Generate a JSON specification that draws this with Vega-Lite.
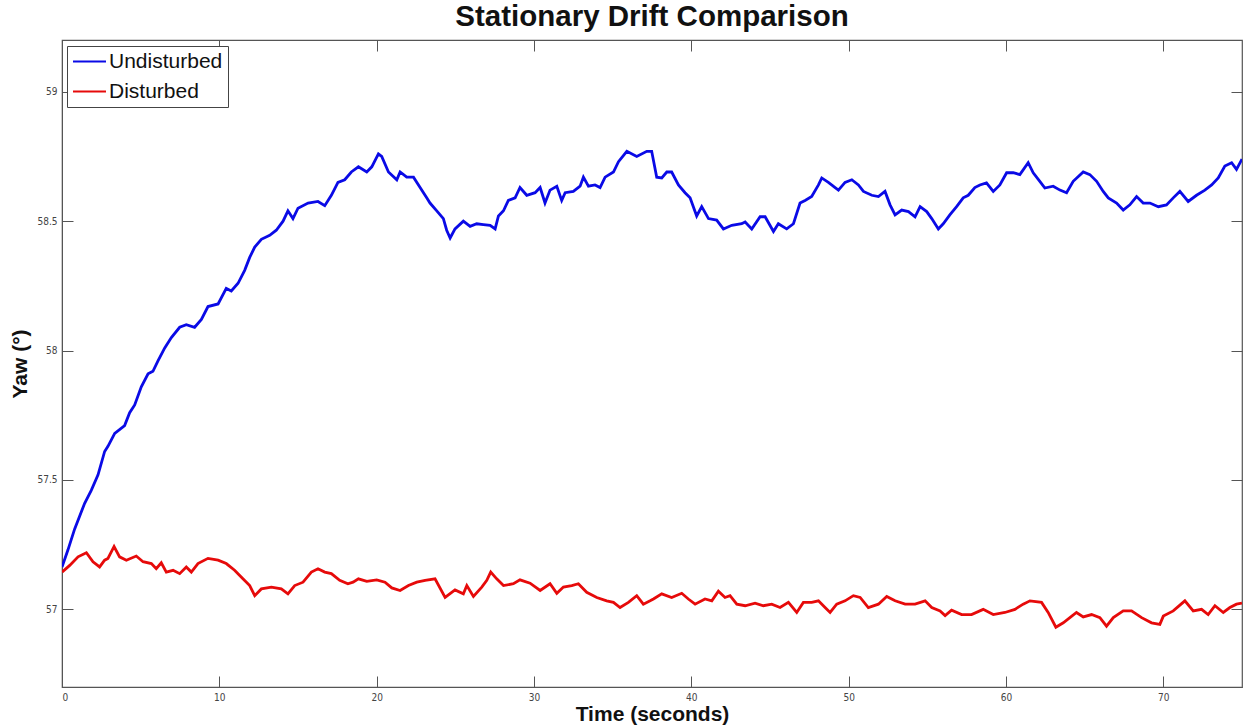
{
  "$schema": "https://vega.github.io/schema/vega-lite/v6.json",
  "width": 1180,
  "height": 647,
  "autosize": {"type": "none"},
  "padding": {"left": 62, "top": 40, "right": 1, "bottom": 40},
  "background": "white",
  "title": {"text": "Stationary Drift Comparison", "font": "Liberation Sans", "fontSize": 29.5, "fontWeight": "bold", "color": "#111", "anchor": "middle", "offset": 7},
  "data": {"values": [
{"series":"Undisturbed","t":0,"yaw":57.164},{"series":"Undisturbed","t":0.38,"yaw":57.23},{"series":"Undisturbed","t":0.8,"yaw":57.31},{"series":"Undisturbed","t":1.44,"yaw":57.41},{"series":"Undisturbed","t":1.86,"yaw":57.46},{"series":"Undisturbed","t":2.29,"yaw":57.52},{"series":"Undisturbed","t":2.71,"yaw":57.61},{"series":"Undisturbed","t":2.92,"yaw":57.63},{"series":"Undisturbed","t":3.35,"yaw":57.68},{"series":"Undisturbed","t":3.98,"yaw":57.71},{"series":"Undisturbed","t":4.3,"yaw":57.76},{"series":"Undisturbed","t":4.62,"yaw":57.79},{"series":"Undisturbed","t":5.04,"yaw":57.86},{"series":"Undisturbed","t":5.47,"yaw":57.91},{"series":"Undisturbed","t":5.78,"yaw":57.92},{"series":"Undisturbed","t":6.1,"yaw":57.96},{"series":"Undisturbed","t":6.53,"yaw":58.01},{"series":"Undisturbed","t":6.95,"yaw":58.05},{"series":"Undisturbed","t":7.48,"yaw":58.09},{"series":"Undisturbed","t":7.9,"yaw":58.1},{"series":"Undisturbed","t":8.43,"yaw":58.09},{"series":"Undisturbed","t":8.86,"yaw":58.12},{"series":"Undisturbed","t":9.28,"yaw":58.17},{"series":"Undisturbed","t":9.92,"yaw":58.18},{"series":"Undisturbed","t":10.44,"yaw":58.24},{"series":"Undisturbed","t":10.76,"yaw":58.23},{"series":"Undisturbed","t":11.19,"yaw":58.26},{"series":"Undisturbed","t":11.61,"yaw":58.31},{"series":"Undisturbed","t":11.93,"yaw":58.36},{"series":"Undisturbed","t":12.25,"yaw":58.4},{"series":"Undisturbed","t":12.67,"yaw":58.43},{"series":"Undisturbed","t":13.2,"yaw":58.445},{"series":"Undisturbed","t":13.62,"yaw":58.465},{"series":"Undisturbed","t":14.05,"yaw":58.5},{"series":"Undisturbed","t":14.36,"yaw":58.54},{"series":"Undisturbed","t":14.68,"yaw":58.51},{"series":"Undisturbed","t":15.0,"yaw":58.55},{"series":"Undisturbed","t":15.64,"yaw":58.57},{"series":"Undisturbed","t":16.27,"yaw":58.576},{"series":"Undisturbed","t":16.7,"yaw":58.56},{"series":"Undisturbed","t":17.12,"yaw":58.6},{"series":"Undisturbed","t":17.54,"yaw":58.65},{"series":"Undisturbed","t":17.97,"yaw":58.66},{"series":"Undisturbed","t":18.39,"yaw":58.69},{"series":"Undisturbed","t":18.84,"yaw":58.71},{"series":"Undisturbed","t":19.37,"yaw":58.69},{"series":"Undisturbed","t":19.69,"yaw":58.71},{"series":"Undisturbed","t":20.11,"yaw":58.76},{"series":"Undisturbed","t":20.32,"yaw":58.75},{"series":"Undisturbed","t":20.75,"yaw":58.69},{"series":"Undisturbed","t":21.28,"yaw":58.66},{"series":"Undisturbed","t":21.49,"yaw":58.69},{"series":"Undisturbed","t":21.91,"yaw":58.67},{"series":"Undisturbed","t":22.34,"yaw":58.67},{"series":"Undisturbed","t":22.76,"yaw":58.63},{"series":"Undisturbed","t":23.18,"yaw":58.59},{"series":"Undisturbed","t":23.39,"yaw":58.57},{"series":"Undisturbed","t":23.82,"yaw":58.54},{"series":"Undisturbed","t":24.24,"yaw":58.51},{"series":"Undisturbed","t":24.45,"yaw":58.465},{"series":"Undisturbed","t":24.67,"yaw":58.435},{"series":"Undisturbed","t":24.98,"yaw":58.47},{"series":"Undisturbed","t":25.51,"yaw":58.5},{"series":"Undisturbed","t":25.94,"yaw":58.48},{"series":"Undisturbed","t":26.36,"yaw":58.49},{"series":"Undisturbed","t":26.78,"yaw":58.487},{"series":"Undisturbed","t":27.21,"yaw":58.484},{"series":"Undisturbed","t":27.53,"yaw":58.47},{"series":"Undisturbed","t":27.74,"yaw":58.52},{"series":"Undisturbed","t":28.06,"yaw":58.54},{"series":"Undisturbed","t":28.37,"yaw":58.58},{"series":"Undisturbed","t":28.8,"yaw":58.59},{"series":"Undisturbed","t":29.11,"yaw":58.63},{"series":"Undisturbed","t":29.54,"yaw":58.6},{"series":"Undisturbed","t":30.07,"yaw":58.61},{"series":"Undisturbed","t":30.39,"yaw":58.63},{"series":"Undisturbed","t":30.7,"yaw":58.57},{"series":"Undisturbed","t":31.02,"yaw":58.62},{"series":"Undisturbed","t":31.45,"yaw":58.635},{"series":"Undisturbed","t":31.76,"yaw":58.58},{"series":"Undisturbed","t":31.98,"yaw":58.61},{"series":"Undisturbed","t":32.5,"yaw":58.615},{"series":"Undisturbed","t":32.93,"yaw":58.635},{"series":"Undisturbed","t":33.14,"yaw":58.67},{"series":"Undisturbed","t":33.46,"yaw":58.635},{"series":"Undisturbed","t":33.88,"yaw":58.64},{"series":"Undisturbed","t":34.2,"yaw":58.63},{"series":"Undisturbed","t":34.52,"yaw":58.67},{"series":"Undisturbed","t":35.05,"yaw":58.69},{"series":"Undisturbed","t":35.37,"yaw":58.73},{"series":"Undisturbed","t":35.9,"yaw":58.77},{"series":"Undisturbed","t":36.53,"yaw":58.75},{"series":"Undisturbed","t":37.17,"yaw":58.77},{"series":"Undisturbed","t":37.48,"yaw":58.77},{"series":"Undisturbed","t":37.8,"yaw":58.67},{"series":"Undisturbed","t":38.12,"yaw":58.667},{"series":"Undisturbed","t":38.44,"yaw":58.69},{"series":"Undisturbed","t":38.75,"yaw":58.69},{"series":"Undisturbed","t":39.18,"yaw":58.64},{"series":"Undisturbed","t":39.6,"yaw":58.61},{"series":"Undisturbed","t":39.92,"yaw":58.59},{"series":"Undisturbed","t":40.34,"yaw":58.52},{"series":"Undisturbed","t":40.66,"yaw":58.556},{"series":"Undisturbed","t":41.09,"yaw":58.51},{"series":"Undisturbed","t":41.61,"yaw":58.504},{"series":"Undisturbed","t":42.04,"yaw":58.47},{"series":"Undisturbed","t":42.57,"yaw":58.484},{"series":"Undisturbed","t":43.2,"yaw":58.49},{"series":"Undisturbed","t":43.42,"yaw":58.497},{"series":"Undisturbed","t":43.84,"yaw":58.47},{"series":"Undisturbed","t":44.37,"yaw":58.517},{"series":"Undisturbed","t":44.69,"yaw":58.517},{"series":"Undisturbed","t":45.22,"yaw":58.46},{"series":"Undisturbed","t":45.53,"yaw":58.49},{"series":"Undisturbed","t":46.06,"yaw":58.47},{"series":"Undisturbed","t":46.49,"yaw":58.49},{"series":"Undisturbed","t":46.91,"yaw":58.57},{"series":"Undisturbed","t":47.23,"yaw":58.58},{"series":"Undisturbed","t":47.65,"yaw":58.595},{"series":"Undisturbed","t":48.08,"yaw":58.64},{"series":"Undisturbed","t":48.29,"yaw":58.667},{"series":"Undisturbed","t":48.71,"yaw":58.65},{"series":"Undisturbed","t":49.14,"yaw":58.63},{"series":"Undisturbed","t":49.35,"yaw":58.62},{"series":"Undisturbed","t":49.77,"yaw":58.65},{"series":"Undisturbed","t":50.2,"yaw":58.66},{"series":"Undisturbed","t":50.62,"yaw":58.64},{"series":"Undisturbed","t":50.94,"yaw":58.615},{"series":"Undisturbed","t":51.47,"yaw":58.6},{"series":"Undisturbed","t":51.89,"yaw":58.595},{"series":"Undisturbed","t":52.31,"yaw":58.615},{"series":"Undisturbed","t":52.63,"yaw":58.563},{"series":"Undisturbed","t":52.95,"yaw":58.524},{"series":"Undisturbed","t":53.37,"yaw":58.543},{"series":"Undisturbed","t":53.8,"yaw":58.537},{"series":"Undisturbed","t":54.22,"yaw":58.517},{"series":"Undisturbed","t":54.54,"yaw":58.556},{"series":"Undisturbed","t":54.96,"yaw":58.537},{"series":"Undisturbed","t":55.28,"yaw":58.51},{"series":"Undisturbed","t":55.7,"yaw":58.47},{"series":"Undisturbed","t":56.01,"yaw":58.49},{"series":"Undisturbed","t":56.43,"yaw":58.524},{"series":"Undisturbed","t":56.86,"yaw":58.556},{"series":"Undisturbed","t":57.28,"yaw":58.59},{"series":"Undisturbed","t":57.6,"yaw":58.6},{"series":"Undisturbed","t":58.02,"yaw":58.63},{"series":"Undisturbed","t":58.34,"yaw":58.64},{"series":"Undisturbed","t":58.76,"yaw":58.648},{"series":"Undisturbed","t":59.19,"yaw":58.615},{"series":"Undisturbed","t":59.61,"yaw":58.64},{"series":"Undisturbed","t":60.04,"yaw":58.687},{"series":"Undisturbed","t":60.46,"yaw":58.687},{"series":"Undisturbed","t":60.88,"yaw":58.68},{"series":"Undisturbed","t":61.41,"yaw":58.726},{"series":"Undisturbed","t":61.73,"yaw":58.687},{"series":"Undisturbed","t":62.15,"yaw":58.654},{"series":"Undisturbed","t":62.47,"yaw":58.628},{"series":"Undisturbed","t":63.0,"yaw":58.635},{"series":"Undisturbed","t":63.43,"yaw":58.62},{"series":"Undisturbed","t":63.85,"yaw":58.61},{"series":"Undisturbed","t":64.27,"yaw":58.654},{"series":"Undisturbed","t":64.91,"yaw":58.69},{"series":"Undisturbed","t":65.33,"yaw":58.68},{"series":"Undisturbed","t":65.76,"yaw":58.654},{"series":"Undisturbed","t":66.18,"yaw":58.615},{"series":"Undisturbed","t":66.5,"yaw":58.59},{"series":"Undisturbed","t":67.03,"yaw":58.57},{"series":"Undisturbed","t":67.45,"yaw":58.543},{"series":"Undisturbed","t":67.87,"yaw":58.563},{"series":"Undisturbed","t":68.3,"yaw":58.595},{"series":"Undisturbed","t":68.72,"yaw":58.57},{"series":"Undisturbed","t":69.15,"yaw":58.57},{"series":"Undisturbed","t":69.68,"yaw":58.556},{"series":"Undisturbed","t":70.2,"yaw":58.563},{"series":"Undisturbed","t":70.63,"yaw":58.59},{"series":"Undisturbed","t":71.05,"yaw":58.615},{"series":"Undisturbed","t":71.58,"yaw":58.576},{"series":"Undisturbed","t":72.11,"yaw":58.6},{"series":"Undisturbed","t":72.64,"yaw":58.62},{"series":"Undisturbed","t":73.07,"yaw":58.64},{"series":"Undisturbed","t":73.49,"yaw":58.667},{"series":"Undisturbed","t":73.91,"yaw":58.713},{"series":"Undisturbed","t":74.34,"yaw":58.726},{"series":"Undisturbed","t":74.65,"yaw":58.7},{"series":"Undisturbed","t":75.0,"yaw":58.74},
{"series":"Disturbed","t":0,"yaw":57.144},{"series":"Disturbed","t":0.49,"yaw":57.17},{"series":"Disturbed","t":1.02,"yaw":57.203},{"series":"Disturbed","t":1.55,"yaw":57.219},{"series":"Disturbed","t":1.97,"yaw":57.184},{"series":"Disturbed","t":2.39,"yaw":57.164},{"series":"Disturbed","t":2.71,"yaw":57.19},{"series":"Disturbed","t":2.92,"yaw":57.197},{"series":"Disturbed","t":3.31,"yaw":57.243},{"series":"Disturbed","t":3.66,"yaw":57.203},{"series":"Disturbed","t":4.09,"yaw":57.19},{"series":"Disturbed","t":4.72,"yaw":57.206},{"series":"Disturbed","t":5.15,"yaw":57.184},{"series":"Disturbed","t":5.68,"yaw":57.177},{"series":"Disturbed","t":5.99,"yaw":57.157},{"series":"Disturbed","t":6.31,"yaw":57.18},{"series":"Disturbed","t":6.63,"yaw":57.144},{"series":"Disturbed","t":7.06,"yaw":57.151},{"series":"Disturbed","t":7.48,"yaw":57.138},{"series":"Disturbed","t":7.9,"yaw":57.164},{"series":"Disturbed","t":8.22,"yaw":57.144},{"series":"Disturbed","t":8.64,"yaw":57.177},{"series":"Disturbed","t":9.28,"yaw":57.197},{"series":"Disturbed","t":9.92,"yaw":57.19},{"series":"Disturbed","t":10.44,"yaw":57.177},{"series":"Disturbed","t":10.97,"yaw":57.151},{"series":"Disturbed","t":11.5,"yaw":57.118},{"series":"Disturbed","t":11.93,"yaw":57.092},{"series":"Disturbed","t":12.25,"yaw":57.053},{"series":"Disturbed","t":12.67,"yaw":57.079},{"series":"Disturbed","t":13.31,"yaw":57.086},{"series":"Disturbed","t":13.94,"yaw":57.079},{"series":"Disturbed","t":14.36,"yaw":57.06},{"series":"Disturbed","t":14.79,"yaw":57.092},{"series":"Disturbed","t":15.32,"yaw":57.105},{"series":"Disturbed","t":15.85,"yaw":57.144},{"series":"Disturbed","t":16.27,"yaw":57.157},{"series":"Disturbed","t":16.7,"yaw":57.144},{"series":"Disturbed","t":17.12,"yaw":57.138},{"series":"Disturbed","t":17.65,"yaw":57.112},{"series":"Disturbed","t":18.17,"yaw":57.099},{"series":"Disturbed","t":18.5,"yaw":57.105},{"series":"Disturbed","t":18.84,"yaw":57.118},{"series":"Disturbed","t":19.37,"yaw":57.108},{"series":"Disturbed","t":20.0,"yaw":57.114},{"series":"Disturbed","t":20.53,"yaw":57.105},{"series":"Disturbed","t":20.96,"yaw":57.083},{"series":"Disturbed","t":21.49,"yaw":57.073},{"series":"Disturbed","t":22.02,"yaw":57.092},{"series":"Disturbed","t":22.55,"yaw":57.105},{"series":"Disturbed","t":23.08,"yaw":57.112},{"series":"Disturbed","t":23.71,"yaw":57.118},{"series":"Disturbed","t":24.35,"yaw":57.046},{"series":"Disturbed","t":24.98,"yaw":57.075},{"series":"Disturbed","t":25.51,"yaw":57.06},{"series":"Disturbed","t":25.73,"yaw":57.092},{"series":"Disturbed","t":26.15,"yaw":57.05},{"series":"Disturbed","t":26.68,"yaw":57.086},{"series":"Disturbed","t":27.0,"yaw":57.112},{"series":"Disturbed","t":27.25,"yaw":57.144},{"series":"Disturbed","t":27.63,"yaw":57.118},{"series":"Disturbed","t":28.06,"yaw":57.092},{"series":"Disturbed","t":28.69,"yaw":57.099},{"series":"Disturbed","t":29.11,"yaw":57.114},{"series":"Disturbed","t":29.75,"yaw":57.101},{"series":"Disturbed","t":30.39,"yaw":57.073},{"series":"Disturbed","t":31.02,"yaw":57.099},{"series":"Disturbed","t":31.45,"yaw":57.062},{"series":"Disturbed","t":31.87,"yaw":57.086},{"series":"Disturbed","t":32.4,"yaw":57.092},{"series":"Disturbed","t":32.82,"yaw":57.099},{"series":"Disturbed","t":33.35,"yaw":57.066},{"series":"Disturbed","t":33.99,"yaw":57.046},{"series":"Disturbed","t":34.62,"yaw":57.033},{"series":"Disturbed","t":35.05,"yaw":57.027},{"series":"Disturbed","t":35.47,"yaw":57.007},{"series":"Disturbed","t":36.0,"yaw":57.027},{"series":"Disturbed","t":36.53,"yaw":57.053},{"series":"Disturbed","t":36.95,"yaw":57.02},{"series":"Disturbed","t":37.38,"yaw":57.033},{"series":"Disturbed","t":37.59,"yaw":57.04},{"series":"Disturbed","t":38.12,"yaw":57.06},{"series":"Disturbed","t":38.75,"yaw":57.046},{"series":"Disturbed","t":39.39,"yaw":57.062},{"series":"Disturbed","t":39.81,"yaw":57.04},{"series":"Disturbed","t":40.24,"yaw":57.02},{"series":"Disturbed","t":40.87,"yaw":57.04},{"series":"Disturbed","t":41.3,"yaw":57.033},{"series":"Disturbed","t":41.72,"yaw":57.07},{"series":"Disturbed","t":42.14,"yaw":57.046},{"series":"Disturbed","t":42.46,"yaw":57.053},{"series":"Disturbed","t":42.89,"yaw":57.02},{"series":"Disturbed","t":43.42,"yaw":57.014},{"series":"Disturbed","t":44.05,"yaw":57.024},{"series":"Disturbed","t":44.58,"yaw":57.014},{"series":"Disturbed","t":45.11,"yaw":57.02},{"series":"Disturbed","t":45.64,"yaw":57.007},{"series":"Disturbed","t":46.17,"yaw":57.027},{"series":"Disturbed","t":46.7,"yaw":56.988},{"series":"Disturbed","t":47.12,"yaw":57.027},{"series":"Disturbed","t":47.65,"yaw":57.027},{"series":"Disturbed","t":48.08,"yaw":57.033},{"series":"Disturbed","t":48.5,"yaw":57.007},{"series":"Disturbed","t":48.82,"yaw":56.988},{"series":"Disturbed","t":49.24,"yaw":57.02},{"series":"Disturbed","t":49.77,"yaw":57.033},{"series":"Disturbed","t":50.3,"yaw":57.053},{"series":"Disturbed","t":50.73,"yaw":57.046},{"series":"Disturbed","t":51.25,"yaw":57.007},{"series":"Disturbed","t":51.89,"yaw":57.02},{"series":"Disturbed","t":52.42,"yaw":57.05},{"series":"Disturbed","t":52.95,"yaw":57.033},{"series":"Disturbed","t":53.59,"yaw":57.02},{"series":"Disturbed","t":54.22,"yaw":57.02},{"series":"Disturbed","t":54.86,"yaw":57.033},{"series":"Disturbed","t":55.28,"yaw":57.007},{"series":"Disturbed","t":55.81,"yaw":56.994},{"series":"Disturbed","t":56.13,"yaw":56.976},{"series":"Disturbed","t":56.54,"yaw":56.997},{"series":"Disturbed","t":57.18,"yaw":56.98},{"series":"Disturbed","t":57.81,"yaw":56.98},{"series":"Disturbed","t":58.55,"yaw":57.0},{"series":"Disturbed","t":59.19,"yaw":56.98},{"series":"Disturbed","t":59.93,"yaw":56.988},{"series":"Disturbed","t":60.57,"yaw":57.0},{"series":"Disturbed","t":61.09,"yaw":57.02},{"series":"Disturbed","t":61.52,"yaw":57.033},{"series":"Disturbed","t":62.26,"yaw":57.027},{"series":"Disturbed","t":62.68,"yaw":56.988},{"series":"Disturbed","t":63.17,"yaw":56.931},{"series":"Disturbed","t":63.64,"yaw":56.948},{"series":"Disturbed","t":64.06,"yaw":56.968},{"series":"Disturbed","t":64.48,"yaw":56.988},{"series":"Disturbed","t":64.91,"yaw":56.971},{"series":"Disturbed","t":65.44,"yaw":56.98},{"series":"Disturbed","t":65.97,"yaw":56.968},{"series":"Disturbed","t":66.39,"yaw":56.935},{"series":"Disturbed","t":66.82,"yaw":56.968},{"series":"Disturbed","t":67.45,"yaw":56.994},{"series":"Disturbed","t":67.98,"yaw":56.994},{"series":"Disturbed","t":68.62,"yaw":56.968},{"series":"Disturbed","t":69.25,"yaw":56.948},{"series":"Disturbed","t":69.78,"yaw":56.942},{"series":"Disturbed","t":70.0,"yaw":56.974},{"series":"Disturbed","t":70.63,"yaw":56.994},{"series":"Disturbed","t":71.37,"yaw":57.033},{"series":"Disturbed","t":71.9,"yaw":56.994},{"series":"Disturbed","t":72.43,"yaw":57.0},{"series":"Disturbed","t":72.85,"yaw":56.98},{"series":"Disturbed","t":73.28,"yaw":57.014},{"series":"Disturbed","t":73.81,"yaw":56.988},{"series":"Disturbed","t":74.23,"yaw":57.007},{"series":"Disturbed","t":74.65,"yaw":57.02},{"series":"Disturbed","t":75.0,"yaw":57.024}
  ]},
  "layer": [
    {
      "mark": {"type": "line", "strokeWidth": 2.8, "clip": true},
      "encoding": {
        "x": {"field": "t", "type": "quantitative", "scale": {"domain": [0, 75], "nice": false, "zero": false},
          "axis": {"orient": "bottom", "title": "Time (seconds)", "values": [0,10,20,30,40,50,60,70], "format": "d"}},
        "y": {"field": "yaw", "type": "quantitative", "scale": {"domain": [56.7, 59.2], "nice": false, "zero": false},
          "axis": {"orient": "left", "title": "Yaw (°)", "values": [57, 57.5, 58, 58.5, 59], "format": "~g"}},
        "color": {"field": "series", "type": "nominal",
          "scale": {"domain": ["Undisturbed", "Disturbed"], "range": ["#0a0ae6", "#e60a0a"]},
          "legend": {"title": null, "orient": "none", "legendX": 5, "legendY": 6}}
      }
    },
    {
      "mark": {"type": "point", "opacity": 0, "size": 1},
      "encoding": {
        "x": {"field": "t", "type": "quantitative", "axis": {"orient": "top", "title": null, "labels": false, "domain": false, "values": [0,10,20,30,40,50,60,70]}},
        "y": {"field": "yaw", "type": "quantitative", "axis": {"orient": "right", "title": null, "labels": false, "domain": false, "values": [57, 57.5, 58, 58.5, 59]}}
      }
    }
  ],
  "config": {
    "view": {"stroke": "#555", "strokeWidth": 1.2},
    "axis": {
      "grid": false,
      "domainColor": "#555",
      "tickColor": "#555",
      "tickSize": -11,
      "tickWidth": 1,
      "labelColor": "#444",
      "labelFont": "Liberation Sans Narrow, DejaVu Sans Condensed, Liberation Sans",
      "labelFontSize": 10,
      "labelPadding": 16,
      "titleFont": "Liberation Sans",
      "titleFontSize": 21,
      "titleFontWeight": "bold",
      "titleColor": "#111"
    },
    "axisBottom": {"titlePadding": 1},
    "axisLeft": {"titlePadding": 6},
    "legend": {
      "fillColor": "white",
      "strokeColor": "#444",
      "padding": 5,
      "symbolType": "M-2,0H2",
      "symbolSize": 272,
      "symbolStrokeWidth": 2,
      "symbolOffset": 7,
      "labelFont": "Liberation Sans",
      "labelFontSize": 21,
      "labelColor": "#111",
      "labelOffset": 9,
      "rowPadding": 8,
      "cornerRadius": 0
    }
  }
}
